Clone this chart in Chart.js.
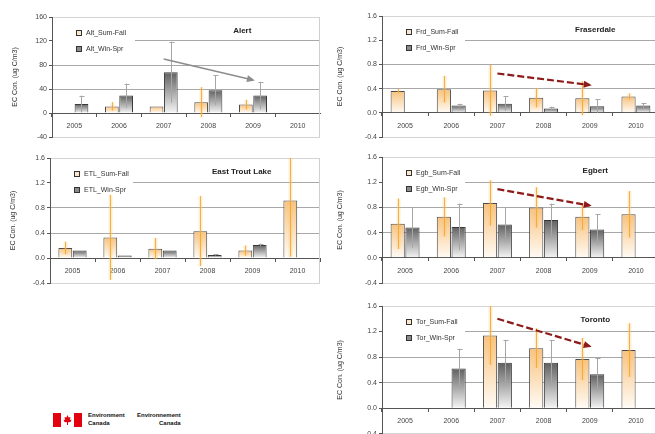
<!DOCTYPE html>
<html>
<head>
<meta charset="utf-8">
<script src="https://cdn.jsdelivr.net/npm/chart.js@4.4.1/dist/chart.umd.min.js"></script>
<style>
  body { margin: 0; width: 655px; height: 434px; overflow: hidden; background: #fff; position: relative;
         font-family: "Liberation Sans", Arial, sans-serif; }
  canvas { position: absolute; }
  .logo { position: absolute; left: 53px; top: 413px; width: 29px; height: 14px; }
  .ec { position: absolute; top: 411px; font-size: 6px; font-weight: bold; line-height: 8px; color: #111; }
</style>
</head>
<body>
<canvas id="alert" width="318" height="145" style="left:5px;top:0"></canvas>
<canvas id="frd" width="335" height="145" style="left:330px;top:0"></canvas>
<canvas id="etl" width="320" height="150" style="left:3px;top:141px"></canvas>
<canvas id="egb" width="335" height="150" style="left:330px;top:140px"></canvas>
<canvas id="tor" width="335" height="150" style="left:330px;top:290px"></canvas>

<svg class="logo" viewBox="0 0 29 14">
  <rect x="0" y="0" width="8" height="14" fill="#e3000f"/>
  <rect x="21" y="0" width="8" height="14" fill="#e3000f"/>
  <polygon points="14.5,2 15.6,4.5 17.5,4 16.8,7 18.5,6.5 17.6,9 15,9.2 15,12 14,12 14,9.2 11.4,9 10.5,6.5 12.2,7 11.5,4 13.4,4.5" fill="#e3000f"/>
</svg>
<div class="ec" style="left:88px">Environment<br>Canada</div>
<div class="ec" style="left:137px;text-align:right">Environnement<br>Canada</div>

<script>
const years = ['2005', '2006', '2007', '2008', '2009', '2010'];

// Alert (ng C/m3 scale)
const altSum = [null, 11, 11, 18, 14, null];
const altSumErr = [0, 7, 0, 25, 8, 0];
const altWin = [15, 29, 68, 38, 29, null];
const altWinErr = [14, 20, 51, 25, 23, 0];
const altTrend = [null, null, 90, null, 55, null];

// Fraserdale
const frdSum = [0.36, 0.39, 0.37, 0.25, 0.24, 0.27];
const frdSumErr = [0.03, 0.22, 0.42, 0.16, 0.28, 0.05];
const frdWin = [null, 0.12, 0.15, 0.07, 0.11, 0.12];
const frdWinErr = [0, 0.03, 0.12, 0.03, 0.11, 0.04];
const frdTrend = [null, null, 0.65, null, 0.46, null];

// East Trout Lake
const etlSum = [0.16, 0.33, 0.15, 0.43, 0.12, 0.92];
const etlSumErr = [0.1, 0.68, 0.17, 0.56, 0.08, 0.9];
const etlWin = [0.12, 0.04, 0.12, 0.05, 0.21, null];
const etlWinErr = [0, 0, 0, 0.01, 0.02, 0];

// Egbert
const egbSum = [0.54, 0.65, 0.87, 0.80, 0.65, 0.69];
const egbSumErr = [0.40, 0.31, 0.36, 0.32, 0.21, 0.37];
const egbWin = [0.48, 0.49, 0.53, 0.60, 0.45, null];
const egbWinErr = [0.32, 0.37, 0.27, 0.26, 0.24, 0];
const egbTrend = [null, null, 1.09, null, 0.83, null];

// Toronto
const torSum = [null, null, 1.14, 0.94, 0.77, 0.91];
const torSumErr = [0, 0, 0.46, 0.31, 0.33, 0.42];
const torWin = [null, 0.62, 0.71, 0.71, 0.53, null];
const torWinErr = [0, 0.31, 0.36, 0.36, 0.26, 0];
const torTrend = [null, null, 1.40, null, 0.97, null];

const altTicks = [-40, 0, 40, 80, 120, 160];
const ecTicks = [-0.4, 0.0, 0.4, 0.8, 1.2, 1.6];

const FONT = '"Liberation Sans", Arial, sans-serif';
Chart.defaults.font.family = FONT;
Chart.defaults.color = '#444';

// vertical gradient inside each bar, from its top down to zero
function barFill(top, bottom) {
  return (c) => {
    const chart = c.chart;
    if (!chart.chartArea || c.type !== 'data' || !c.parsed || c.parsed.y == null) return top;
    const y = chart.scales.y;
    const y0 = y.getPixelForValue(c.parsed.y), y1 = y.getPixelForValue(0);
    if (!isFinite(y0) || Math.abs(y1 - y0) < 1) return top;
    const g = chart.ctx.createLinearGradient(0, y0, 0, y1);
    g.addColorStop(0, top);
    g.addColorStop(1, bottom);
    return g;
  };
}

const panelDeco = {
  id: 'panelDeco',
  beforeDatasetsDraw(chart, args, o) {
    const { ctx, chartArea: a } = chart;
    ctx.save();
    // right frame
    ctx.strokeStyle = '#cfcfcf';
    ctx.lineWidth = 1;
    ctx.beginPath();
    ctx.moveTo(a.right - 0.5, a.top);
    ctx.lineTo(a.right - 0.5, a.bottom);
    ctx.stroke();
    // legend box
    ctx.fillStyle = '#fff';
    ctx.fillRect(a.left + 1, a.top + 5, 82, 37);
    ctx.font = '7px ' + FONT;
    ctx.textBaseline = 'middle';
    chart.data.datasets.filter(d => d.type !== 'line').forEach((d, i) => {
      const y = Math.round(a.top + 16 + i * 16);
      const x = Math.round(a.left + 24);
      ctx.fillStyle = d.legendFill;
      ctx.fillRect(x, y - 3, 5, 5);
      ctx.strokeStyle = '#333';
      ctx.strokeRect(x + 0.5, y - 2.5, 5, 5);
      ctx.fillStyle = '#333';
      ctx.fillText(d.label, x + 10, y);
    });
    // station name
    ctx.font = 'bold 8px ' + FONT;
    ctx.textAlign = 'center';
    ctx.fillStyle = '#222';
    ctx.fillText(o.name, a.left + a.width * o.titleX, a.top + o.titleY);
    ctx.restore();
  },
  afterDatasetDraw(chart, args) {
    const ds = chart.data.datasets[args.index];
    if (!ds.errors) return;
    const { ctx, chartArea: a } = chart;
    const y = chart.scales.y;
    ctx.save();
    ctx.beginPath();
    ctx.rect(a.left, a.top, a.width, a.height);
    ctx.clip();
    args.meta.data.forEach((bar, i) => {
      const v = ds.data[i], e = ds.errors[i];
      if (v == null || !e) return;
      const hi = y.getPixelForValue(v + e), lo = y.getPixelForValue(v - e);
      const x = Math.round(bar.x) + 0.5;
      if (ds.errStyle === 'band') {
        ctx.strokeStyle = 'rgba(250,195,110,0.3)';
        ctx.lineWidth = 4;
        ctx.beginPath(); ctx.moveTo(x, hi); ctx.lineTo(x, lo); ctx.stroke();
        ctx.strokeStyle = 'rgba(245,165,40,0.85)';
        ctx.lineWidth = 1;
        ctx.beginPath(); ctx.moveTo(x, hi); ctx.lineTo(x, lo); ctx.stroke();
      } else {
        ctx.strokeStyle = '#a6a6a6';
        ctx.lineWidth = 1;
        ctx.beginPath();
        ctx.moveTo(x, hi); ctx.lineTo(x, lo);
        ctx.moveTo(x - 2, Math.round(hi) + 0.5); ctx.lineTo(x + 3, Math.round(hi) + 0.5);
        ctx.stroke();
      }
    });
    ctx.restore();
  },
  afterDatasetsDraw(chart) {
    const ctx = chart.ctx;
    chart.data.datasets.forEach((d, di) => {
      if (d.type !== 'line') return;
      const pts = chart.getDatasetMeta(di).data.filter((p, i) => d.data[i] != null);
      if (pts.length < 2) return;
      const p1 = pts[pts.length - 2], p2 = pts[pts.length - 1];
      const ang = Math.atan2(p2.y - p1.y, p2.x - p1.x);
      ctx.save();
      ctx.translate(p2.x, p2.y);
      ctx.rotate(ang);
      ctx.fillStyle = d.borderColor;
      ctx.beginPath();
      ctx.moveTo(2, 0);
      ctx.lineTo(-6, -3.5);
      ctx.lineTo(-6, 3.5);
      ctx.closePath();
      ctx.fill();
      ctx.restore();
    });
  }
};

function makePanel(id, p) {
  const datasets = [
    {
      label: p.sumLabel, data: p.sum, errors: p.sumErr, errStyle: 'band',
      backgroundColor: barFill('#f8c27e', '#fffbf5'), legendFill: '#fbe6cc',
      borderColor: '#4a4a4a', borderWidth: 1, order: 2,
      categoryPercentage: 0.64, barPercentage: 0.96
    },
    {
      label: p.winLabel, data: p.win, errors: p.winErr, errStyle: 'line',
      backgroundColor: barFill('#606060', '#f5f5f5'), legendFill: '#8a8a8a',
      borderColor: '#3a3a3a', borderWidth: 1, order: 2,
      categoryPercentage: 0.64, barPercentage: 0.96
    }
  ];
  if (p.trend) {
    datasets.push({
      type: 'line', data: p.trend, spanGaps: true, order: 0,
      borderColor: p.trendColor, borderWidth: p.trendWidth, borderDash: p.trendDash,
      pointRadius: 0, fill: false
    });
  }
  const ticks = p.ticks;
  new Chart(document.getElementById(id), {
    type: 'bar',
    data: { labels: years, datasets },
    options: {
      responsive: false,
      animation: false,
      layout: { padding: p.padding },
      plugins: {
        legend: { display: false },
        tooltip: { enabled: false },
        panelDeco: { name: p.name, titleX: p.titleX, titleY: 14 }
      },
      scales: {
        x: {
          type: 'category',
          position: { y: 0 },
          offset: true,
          grid: { drawOnChartArea: false, offset: true, tickLength: 3, tickColor: '#555' },
          border: { color: '#555' },
          ticks: { font: { size: 7 }, color: '#444', padding: 6, maxRotation: 0 }
        },
        y: {
          min: ticks[0], max: ticks[ticks.length - 1],
          afterFit: (s) => { s.width = p.yWidth; },
          afterBuildTicks: (s) => { s.ticks = ticks.map(v => ({ value: v })); },
          grid: {
            color: (c) => {
              const v = c.tick ? c.tick.value : 0;
              if (v === 0) return '#666';
              if (v === ticks[0] || v === ticks[ticks.length - 1]) return '#d4d4d4';
              return '#a8a8a8';
            },
            tickLength: 3, tickColor: '#555'
          },
          border: { color: '#555' },
          ticks: {
            font: { size: 7 }, color: '#444', padding: 2,
            callback: (v) => v.toFixed(p.dec)
          },
          title: {
            display: true, text: 'EC Con. (ug C/m3)',
            font: { size: 7 }, color: '#333', padding: { top: 6, bottom: 0 }
          }
        }
      }
    },
    plugins: [panelDeco]
  });
}

makePanel('alert', {
  name: 'Alert', sumLabel: 'Alt_Sum-Fall', winLabel: 'Alt_Win-Spr',
  sum: altSum, sumErr: altSumErr, win: altWin, winErr: altWinErr,
  trend: altTrend, trendColor: '#8c8c8c', trendWidth: 1.5, trendDash: [],
  ticks: altTicks, dec: 0, yWidth: 47, titleX: 0.71,
  padding: { top: 17, bottom: 8, left: 0, right: 3 }
});

makePanel('frd', {
  name: 'Fraserdale', sumLabel: 'Frd_Sum-Fall', winLabel: 'Frd_Win-Spr',
  sum: frdSum, sumErr: frdSumErr, win: frdWin, winErr: frdWinErr,
  trend: frdTrend, trendColor: '#8e1b1b', trendWidth: 2.2, trendDash: [7, 3],
  ticks: ecTicks, dec: 1, yWidth: 52, titleX: 0.77,
  padding: { top: 16, bottom: 8, left: 0, right: 6 }
});

makePanel('etl', {
  name: 'East Trout Lake', sumLabel: 'ETL_Sum-Fall', winLabel: 'ETL_Win-Spr',
  sum: etlSum, sumErr: etlSumErr, win: etlWin, winErr: etlWinErr,
  ticks: ecTicks, dec: 1, yWidth: 47, titleX: 0.71,
  padding: { top: 17, bottom: 8, left: 0, right: 3 }
});

makePanel('egb', {
  name: 'Egbert', sumLabel: 'Egb_Sum-Fall', winLabel: 'Egb_Win-Spr',
  sum: egbSum, sumErr: egbSumErr, win: egbWin, winErr: egbWinErr,
  trend: egbTrend, trendColor: '#8e1b1b', trendWidth: 2.2, trendDash: [7, 3],
  ticks: ecTicks, dec: 1, yWidth: 52, titleX: 0.77,
  padding: { top: 17, bottom: 7, left: 0, right: 6 }
});

makePanel('tor', {
  name: 'Toronto', sumLabel: 'Tor_Sum-Fall', winLabel: 'Tor_Win-Spr',
  sum: torSum, sumErr: torSumErr, win: torWin, winErr: torWinErr,
  trend: torTrend, trendColor: '#8e1b1b', trendWidth: 2.2, trendDash: [7, 3],
  ticks: ecTicks, dec: 1, yWidth: 52, titleX: 0.77,
  padding: { top: 16, bottom: 6, left: 0, right: 6 }
});
</script>
</body>
</html>
